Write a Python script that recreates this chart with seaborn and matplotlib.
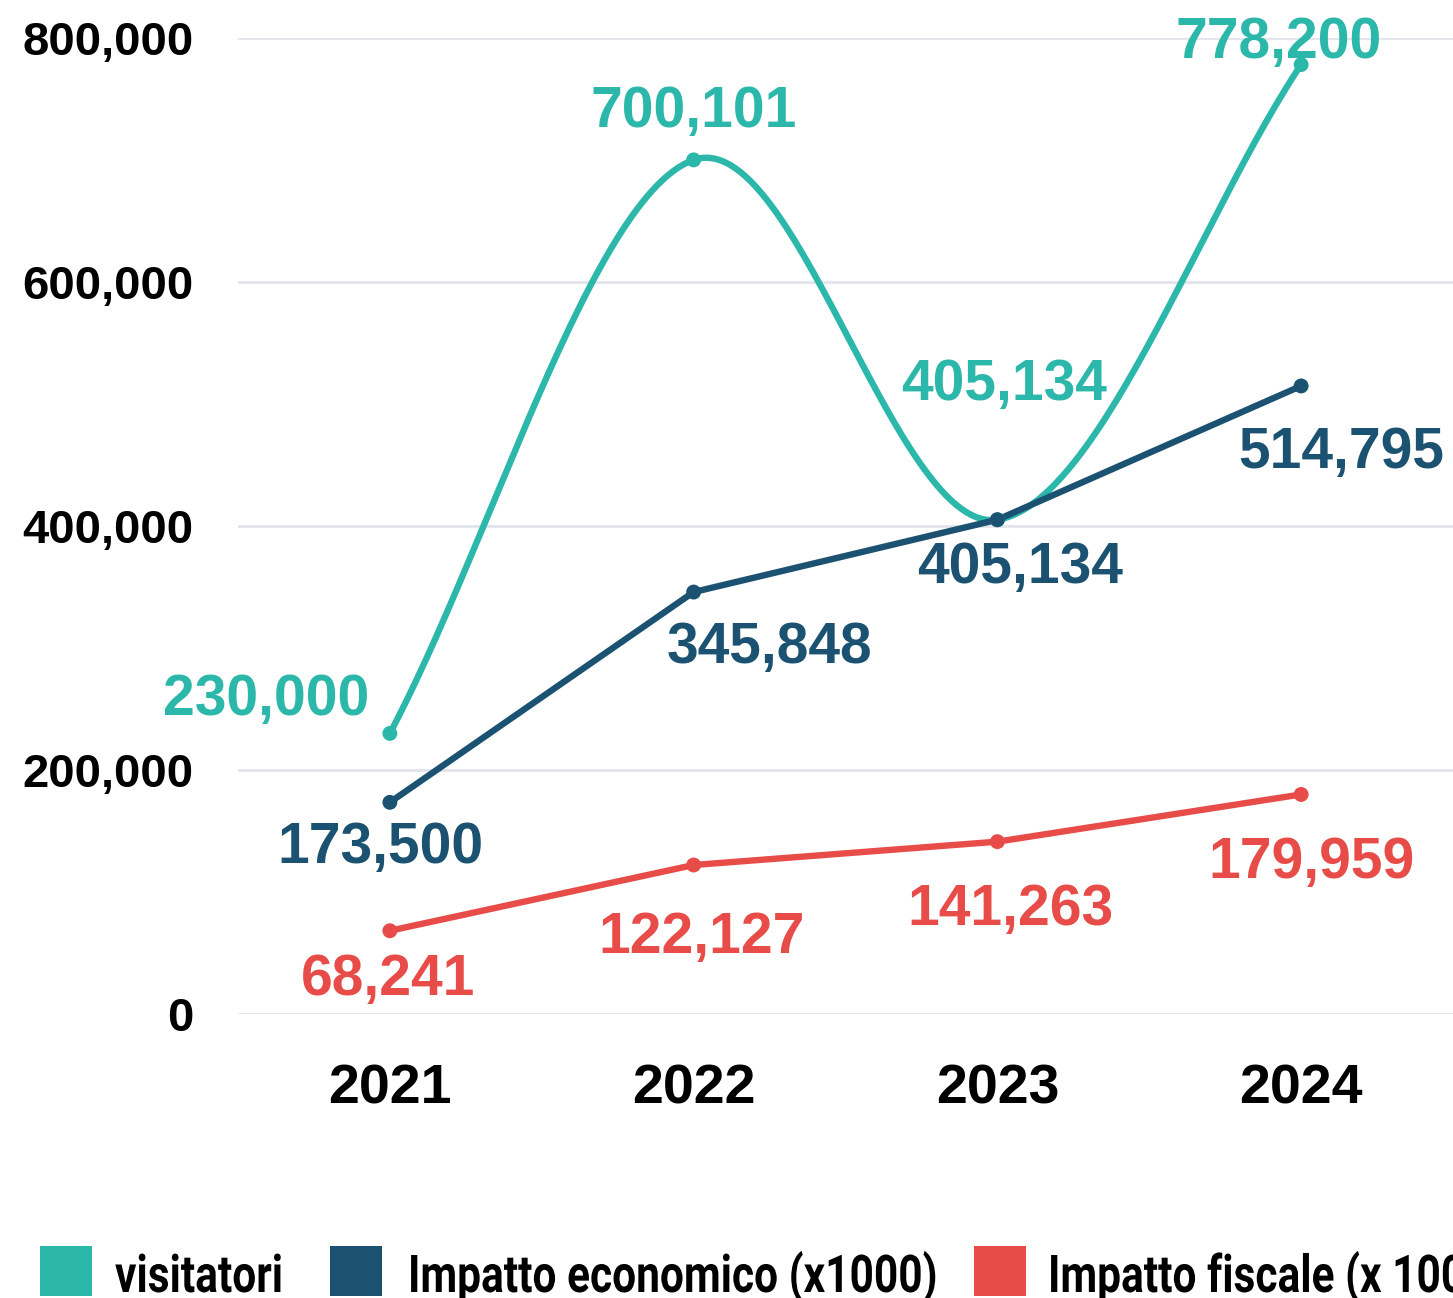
import numpy as np
import pandas as pd
import matplotlib
matplotlib.use("Agg")
import matplotlib.pyplot as plt
import seaborn as sns
from matplotlib.patches import Rectangle
from matplotlib.patheffects import AbstractPathEffect
from matplotlib.transforms import Affine2D

years = ["2021", "2022", "2023", "2024"]
visitatori = [230000, 700101, 405134, 778200]
impatto_economico = [173500, 345848, 405134, 514795]
impatto_fiscale = [68241, 122127, 141263, 179959]
series_names = ["visitatori", "Impatto economico (x1000)", "Impatto fiscale (x 1000)"]
colors = ["#2bb7a9", "#1b5171", "#e84c48"]
yticks = [0, 200000, 400000, 600000, 800000]

sns.set_theme(style="white")
plt.rcParams["font.family"] = ["Liberation Sans", "DejaVu Sans"]

W, H = 1453, 1298
fig = plt.figure(figsize=(W/100, H/100), dpi=100)
ax = fig.add_axes([238/W, 1-1014/H, 1-238/W, (1014-38)/H])

x = np.arange(len(years))

def cardinal(xs, ys, n=60):
    xs = np.asarray(xs, float); ys = np.asarray(ys, float)
    px = np.concatenate([[2*xs[0]-xs[1]], xs, [2*xs[-1]-xs[-2]]])
    py = np.concatenate([[2*ys[0]-ys[1]], ys, [2*ys[-1]-ys[-2]]])
    outx, outy = [], []
    for i in range(1, len(px)-2):
        t = np.linspace(0, 1, n)
        for arr, out in ((px, outx), (py, outy)):
            p0, p1, p2, p3 = arr[i-1], arr[i], arr[i+1], arr[i+2]
            m1 = (p2 - p0) / 2
            m2 = (p3 - p1) / 2
            h00 = 2*t**3 - 3*t**2 + 1
            h10 = t**3 - 2*t**2 + t
            h01 = -2*t**3 + 3*t**2
            h11 = t**3 - t**2
            out.extend(h00*p1 + h10*m1 + h01*p2 + h11*m2)
    return np.array(outx), np.array(outy)

for yv in yticks:
    ax.axhline(yv, color="#e3e3ec", lw=2, zorder=0)

sx, sy = cardinal(x, visitatori)
smooth = pd.DataFrame({"x": sx, "y": sy})
sns.lineplot(data=smooth, x="x", y="y", ax=ax, color=colors[0], lw=4.6, sort=False, zorder=3)
sns.scatterplot(x=x, y=visitatori, ax=ax, color=colors[0], s=115, edgecolor="none", zorder=4)

for vals, col in ((impatto_economico, colors[1]), (impatto_fiscale, colors[2])):
    sns.lineplot(x=x, y=vals, ax=ax, color=col, lw=4.6, zorder=3)
    sns.scatterplot(x=x, y=vals, ax=ax, color=col, s=115, edgecolor="none", zorder=4)

# label offsets in pixels (dx, dy up)
offs = [
    [(-124, 33), (0, 48), (7, 135), (-23, 22)],
    [(-9, -46), (76, -56), (23, -48), (40, -67)],
    [(-2, -49), (8, -73), (13, -68), (10, -69)],
]
for si, vals in enumerate([visitatori, impatto_economico, impatto_fiscale]):
    for i, v in enumerate(vals):
        dx, dy = offs[si][i]
        ax.annotate(f"{v:,}", (x[i], v), xytext=(dx*0.72, dy*0.72), textcoords="offset points",
                    ha="center", va="center", fontsize=41, fontweight="bold", color=colors[si],
                    annotation_clip=False, zorder=5)

ax.set_xlim(-0.5, 3.5)
ax.set_ylim(0, 800000)
ax.set_xticks(x)
ax.set_xticklabels(years, fontsize=40, fontweight="bold", color="black")
ax.set_yticks(yticks)
ax.set_yticklabels([f"{v:,}" for v in yticks], fontsize=34, fontweight="bold", color="black")
ax.tick_params(axis="x", length=0, pad=36)
ax.tick_params(axis="y", length=0, pad=32)
ax.set_xlabel("")
ax.set_ylabel("")
for s in ax.spines.values():
    s.set_visible(False)
ax.grid(False)


class Condense(AbstractPathEffect):
    """Narrow the glyphs horizontally (condensed look), keeping real text."""
    def __init__(self, sx):
        super().__init__()
        self.sx = sx

    def draw_path(self, renderer, gc, tpath, affine, rgbFace=None):
        renderer.draw_path(gc, tpath, Affine2D().scale(self.sx, 1) + affine, rgbFace)


# legend (manual, condensed bold)
patch_x = [40, 330, 974]
text_x = [115, 408, 1048]
for px, tx, c, name in zip(patch_x, text_x, colors, series_names):
    fig.add_artist(Rectangle((px/W, 1-1296/H), 52/W, 50/H, transform=fig.transFigure,
                             facecolor=c, edgecolor="none"))
    fig.text(tx/W, 1-1292/H, name, ha="left", va="baseline", fontsize=37.5,
             fontweight="bold", family=["Roboto", "DejaVu Sans"], color="black",
             path_effects=[Condense(0.815)])

fig.savefig("out.png", dpi=100)
